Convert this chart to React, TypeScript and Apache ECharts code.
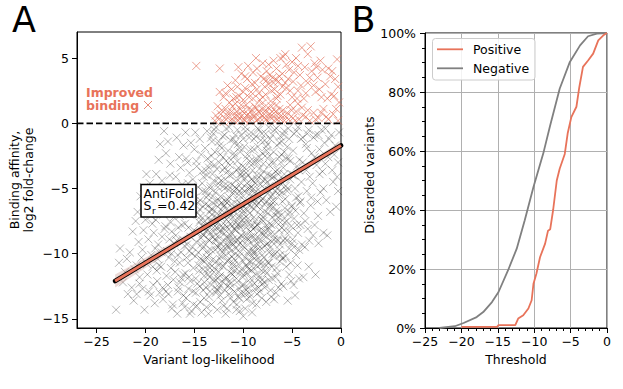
import React, { useEffect, useRef } from "react";
import * as echarts from "echarts";

// ---------- Panel A data ----------
const xTicksA = [-25, -20, -15, -10, -5, 0];
const yTicksA = [-15, -10, -5, 0, 5];

const grayPts: number[][] = [
  [-23.0,-14.3],[-22.6,-9.6],[-22.7,-10.7],[-22.3,-12.2],[-22.1,-11.4],
  [-21.8,-13.1],[-21.6,-9.9],[-21.4,-12.6],[-21.3,-8.3],[-21.1,-11.2],[-21.0,-7.5],[-21.9,-10.4],[-21.2,-13.6],
  [-20.9,-13.1],[-20.8,-6.8],[-20.7,-9.1],[-20.6,-11.8],[-20.5,-5.6],[-20.4,-10.3],[-20.3,-12.7],[-20.2,-8.2],[-20.1,-14.3],[-20.0,-7.4],[-20.9,-10.9],[-20.6,-12.3],[-20.3,-9.7],[-20.15,-4.9],
  [-19.9,-3.9],[-19.8,-11.6],[-19.7,-8.9],[-19.6,-6.2],[-19.5,-13.2],[-19.4,-10.1],[-19.3,-7.7],[-19.2,-12.4],[-19.1,-5.3],[-19.0,-9.6],[-19.85,-10.8],[-19.65,-12.9],[-19.45,-7.1],[-19.25,-11.0],[-19.05,-13.8],[-19.55,-4.6],[-19.15,-8.4],[-19.75,-6.9],
  [-18.9,-3.9],[-18.5,-1.6],[-18.1,-0.6],[-18.8,-12.1],[-18.7,-9.3],[-18.6,-6.8],[-18.4,-11.0],[-18.3,-4.4],[-18.2,-13.5],[-18.05,-8.1],[-18.95,-7.4],[-18.75,-10.4],[-18.55,-13.0],[-18.45,-5.8],[-18.35,-9.9],[-18.25,-12.6],[-18.15,-7.0],[-18.65,-2.8],[-18.85,-11.3],[-18.3,-8.7],[-18.6,-10.9],[-18.1,-5.1],
  [-17.9,-2.3],[-17.8,-9.8],[-17.7,-12.4],[-17.6,-6.1],[-17.5,-4.0],[-17.4,-11.1],[-17.3,-8.3],[-17.2,-13.9],[-17.1,-7.2],[-17.0,-10.6],[-17.95,-7.9],[-17.85,-11.7],[-17.75,-5.3],[-17.65,-13.1],[-17.55,-8.9],[-17.45,-3.1],[-17.35,-10.0],[-17.25,-6.6],[-17.15,-12.0],[-17.05,-9.2],[-17.7,-1.4],[-17.3,-14.2],[-17.6,-10.3],[-17.2,-5.6],[-17.9,-12.9],[-17.4,-7.6],
  [-16.9,-8.6],[-16.8,-1.1],[-16.7,-12.9],[-16.6,-5.0],[-16.5,-10.7],[-16.4,-3.4],[-16.3,-7.8],[-16.2,-13.8],[-16.1,-1.7],[-16.0,-9.4],[-16.95,-11.4],[-16.85,-6.3],[-16.75,-14.6],[-16.65,-8.0],[-16.55,-2.6],[-16.45,-12.2],[-16.35,-9.9],[-16.25,-4.7],[-16.15,-11.6],[-16.05,-6.9],[-16.9,-4.1],[-16.7,-10.1],[-16.5,-7.1],[-16.3,-11.9],[-16.1,-13.2],[-16.8,-9.0],[-16.6,-12.6],[-16.4,-6.0],[-16.2,-8.9],[-16.0,-14.1],
  [-15.9,-0.7],[-15.8,-10.3],[-15.7,-6.2],[-15.6,-12.7],[-15.5,-3.8],[-15.4,-8.7],[-15.3,-14.4],[-15.2,-5.4],[-15.1,-11.1],[-15.0,-2.0],[-15.95,-7.7],[-15.85,-13.4],[-15.75,-9.3],[-15.65,-4.6],[-15.55,-11.8],[-15.45,-7.0],[-15.35,-1.5],[-15.25,-10.0],[-15.15,-12.9],[-15.05,-8.2],[-15.9,-11.5],[-15.7,-3.0],[-15.5,-9.8],[-15.3,-6.8],[-15.1,-13.9],[-15.8,-5.1],[-15.6,-8.0],[-15.4,-12.1],[-15.2,-9.5],[-15.0,-6.0],[-15.85,-2.7],[-15.45,-14.6],[-15.15,-4.3],[-15.65,-10.7],
  [-14.9,-0.7],[-14.8,-9.1],[-14.7,-12.3],[-14.6,-4.9],[-14.5,-7.6],[-14.4,-13.7],[-14.3,-2.4],[-14.2,-10.5],[-14.1,-6.4],[-14.0,-11.7],[-14.95,-5.7],[-14.85,-13.0],[-14.75,-3.3],[-14.65,-8.4],[-14.55,-10.9],[-14.45,-1.2],[-14.35,-7.1],[-14.25,-14.5],[-14.15,-9.6],[-14.05,-4.1],[-14.9,-10.2],[-14.7,-6.9],[-14.5,-11.3],[-14.3,-8.8],[-14.1,-12.8],[-14.8,-2.9],[-14.6,-9.9],[-14.4,-5.9],[-14.2,-7.9],[-14.0,-13.4],[-14.85,-11.9],[-14.65,-6.1],[-14.45,-12.5],[-14.25,-3.7],[-14.05,-8.6],[-14.75,-14.0],[-14.35,-10.4],[-14.15,-5.2],
  [-13.9,-1.9],[-13.8,-8.3],[-13.7,-11.2],[-13.6,-5.5],[-13.5,-13.3],[-13.4,-3.1],[-13.3,-9.7],[-13.2,-7.0],[-13.1,-12.0],[-13.0,-4.4],[-13.95,-10.6],[-13.85,-6.2],[-13.75,-14.1],[-13.65,-2.7],[-13.55,-8.9],[-13.45,-11.8],[-13.35,-5.0],[-13.25,-13.9],[-13.15,-7.7],[-13.05,-0.8],[-13.9,-9.3],[-13.7,-4.0],[-13.5,-10.1],[-13.3,-6.6],[-13.1,-8.7],[-13.8,-12.6],[-13.6,-7.3],[-13.4,-10.8],[-13.2,-1.4],[-13.0,-11.4],[-13.85,-3.6],[-13.65,-9.8],[-13.45,-6.8],[-13.25,-12.4],[-13.05,-8.0],[-13.75,-5.7],[-13.55,-14.6],[-13.35,-8.4],[-13.15,-3.9],[-13.95,-7.5],[-13.4,-12.9],[-13.1,-6.1],
  [-12.9,-2.2],[-12.8,-9.0],[-12.7,-12.7],[-12.6,-6.4],[-12.5,-4.2],[-12.4,-10.4],[-12.3,-7.9],[-12.2,-13.6],[-12.1,-1.0],[-12.0,-8.5],[-12.95,-11.1],[-12.85,-5.3],[-12.75,-7.2],[-12.65,-14.3],[-12.55,-9.5],[-12.45,-3.0],[-12.35,-11.7],[-12.25,-6.1],[-12.15,-9.9],[-12.05,-12.2],[-12.9,-7.6],[-12.7,-3.5],[-12.5,-11.4],[-12.3,-5.6],[-12.1,-10.9],[-12.8,-13.0],[-12.6,-8.7],[-12.4,-1.7],[-12.2,-7.3],[-12.0,-4.8],[-12.85,-9.7],[-12.65,-6.9],[-12.45,-12.6],[-12.25,-8.2],[-12.05,-2.6],[-12.75,-10.6],[-12.55,-4.6],[-12.35,-13.2],[-12.15,-6.7],[-12.95,-0.5],[-12.6,-11.9],[-12.3,-9.2],[-12.0,-14.0],[-12.7,-8.0],
  [-11.9,-3.4],[-11.8,-10.1],[-11.7,-7.4],[-11.6,-12.5],[-11.5,-5.1],[-11.4,-8.8],[-11.3,-1.3],[-11.2,-11.2],[-11.1,-6.5],[-11.0,-13.7],[-11.95,-8.1],[-11.85,-4.3],[-11.75,-11.8],[-11.65,-9.4],[-11.55,-2.1],[-11.45,-13.1],[-11.35,-6.9],[-11.25,-9.8],[-11.15,-4.7],[-11.05,-10.7],[-11.9,-12.8],[-11.7,-5.8],[-11.5,-9.1],[-11.3,-7.7],[-11.1,-11.6],[-11.8,-6.0],[-11.6,-3.7],[-11.4,-12.1],[-11.2,-8.4],[-11.0,-5.4],[-11.85,-9.6],[-11.65,-14.2],[-11.45,-7.0],[-11.25,-2.8],[-11.05,-8.9],[-11.75,-0.4],[-11.55,-10.5],[-11.35,-12.3],[-11.15,-7.9],[-11.95,-6.3],[-11.6,-8.0],[-11.4,-4.0],[-11.2,-10.2],[-11.0,-9.3],[-11.8,-14.6],[-11.3,-13.4],
  [-10.9,-2.5],[-10.8,-8.2],[-10.7,-11.9],[-10.6,-5.9],[-10.5,-13.3],[-10.4,-7.1],[-10.3,-9.9],[-10.2,-4.1],[-10.1,-12.4],[-10.0,-6.7],[-10.95,-10.4],[-10.85,-4.9],[-10.75,-7.6],[-10.65,-13.9],[-10.55,-1.6],[-10.45,-9.3],[-10.35,-11.4],[-10.25,-6.2],[-10.15,-8.6],[-10.05,-3.3],[-10.9,-12.9],[-10.7,-6.5],[-10.5,-10.8],[-10.3,-3.9],[-10.1,-9.0],[-10.8,-0.9],[-10.6,-8.9],[-10.4,-12.7],[-10.2,-7.8],[-10.0,-10.6],[-10.85,-11.3],[-10.65,-3.6],[-10.45,-5.5],[-10.25,-13.0],[-10.05,-11.8],[-10.75,-9.6],[-10.55,-7.3],[-10.35,-14.4],[-10.15,-5.0],[-10.95,-6.8],[-10.6,-2.9],[-10.3,-8.0],[-10.0,-14.8],[-10.7,-14.3],[-10.4,-1.9],[-10.1,-7.4],
  [-9.9,-1.8],[-9.8,-7.7],[-9.7,-10.9],[-9.6,-4.6],[-9.5,-12.6],[-9.4,-6.3],[-9.3,-9.2],[-9.2,-3.2],[-9.1,-14.5],[-9.0,-8.1],[-9.95,-11.6],[-9.85,-5.2],[-9.75,-8.5],[-9.65,-13.5],[-9.55,-2.4],[-9.45,-9.8],[-9.35,-6.9],[-9.25,-11.9],[-9.15,-4.3],[-9.05,-10.2],[-9.9,-9.5],[-9.7,-3.8],[-9.5,-7.3],[-9.3,-12.2],[-9.1,-5.7],[-9.8,-13.1],[-9.6,-8.8],[-9.4,-1.1],[-9.2,-10.6],[-9.0,-6.0],[-9.85,-3.4],[-9.65,-6.6],[-9.45,-11.2],[-9.25,-8.3],[-9.05,-13.8],[-9.75,-0.6],[-9.55,-10.0],[-9.35,-5.0],[-9.15,-7.9],[-9.95,-7.0],[-9.6,-11.5],[-9.3,-2.9],[-9.0,-9.7],[-9.8,-14.2],[-9.4,-13.0],[-9.2,-4.9],
  [-8.9,-2.0],[-8.8,-8.0],[-8.7,-10.5],[-8.6,-4.0],[-8.5,-12.0],[-8.4,-6.1],[-8.3,-9.0],[-8.2,-1.3],[-8.1,-13.4],[-8.0,-7.2],[-8.95,-11.1],[-8.85,-5.3],[-8.75,-7.5],[-8.65,-13.9],[-8.55,-3.0],[-8.45,-9.6],[-8.35,-11.7],[-8.25,-4.7],[-8.15,-8.4],[-8.05,-10.1],[-8.9,-6.6],[-8.7,-2.7],[-8.5,-9.3],[-8.3,-5.6],[-8.1,-11.3],[-8.8,-12.7],[-8.6,-7.8],[-8.4,-0.5],[-8.2,-10.8],[-8.0,-4.4],[-8.85,-9.9],[-8.65,-6.3],[-8.45,-12.6],[-8.25,-7.0],[-8.05,-2.3],[-8.75,-4.6],[-8.55,-11.0],[-8.35,-3.5],[-8.15,-5.9],[-8.95,-8.7],[-8.6,-13.1],[-8.3,-8.2],[-8.0,-12.3],[-8.7,-1.0],
  [-7.9,-3.7],[-7.8,-9.4],[-7.7,-6.8],[-7.6,-11.5],[-7.5,-1.6],[-7.4,-8.0],[-7.3,-4.8],[-7.2,-12.8],[-7.1,-6.0],[-7.0,-10.0],[-7.95,-7.5],[-7.85,-12.2],[-7.75,-2.5],[-7.65,-8.7],[-7.55,-5.4],[-7.45,-10.7],[-7.35,-3.2],[-7.25,-7.7],[-7.15,-13.3],[-7.05,-4.2],[-7.9,-10.3],[-7.7,-0.8],[-7.5,-9.2],[-7.3,-6.4],[-7.1,-11.0],[-7.8,-5.0],[-7.6,-2.1],[-7.4,-12.0],[-7.2,-8.5],[-7.0,-2.9],[-7.85,-8.3],[-7.65,-13.7],[-7.45,-6.9],[-7.25,-1.2],[-7.05,-9.1],[-7.75,-11.3],[-7.55,-4.5],[-7.35,-9.9],[-7.15,-5.6],[-7.0,-7.2],
  [-6.9,-2.2],[-6.8,-8.5],[-6.7,-5.2],[-6.6,-11.1],[-6.5,-3.6],[-6.4,-7.2],[-6.3,-9.7],[-6.2,-1.0],[-6.1,-12.3],[-6.0,-6.0],[-6.95,-10.2],[-6.85,-4.1],[-6.75,-7.0],[-6.65,-13.0],[-6.55,-1.7],[-6.45,-9.0],[-6.35,-5.5],[-6.25,-10.6],[-6.15,-3.0],[-6.05,-8.0],[-6.9,-6.4],[-6.7,-11.8],[-6.5,-8.9],[-6.3,-2.6],[-6.1,-4.7],[-6.8,-0.5],[-6.6,-6.7],[-6.4,-12.6],[-6.2,-7.6],[-6.0,-10.4],[-6.85,-13.5],[-6.45,-4.4],[-6.25,-9.3],[-6.05,-1.4],
  [-5.9,-3.4],[-5.8,-8.2],[-5.7,-5.8],[-5.6,-11.0],[-5.5,-1.8],[-5.4,-7.0],[-5.3,-9.6],[-5.2,-4.3],[-5.1,-12.1],[-5.0,-6.3],[-5.95,-10.3],[-5.85,-0.9],[-5.75,-7.6],[-5.65,-4.8],[-5.55,-9.0],[-5.45,-13.6],[-5.35,-2.7],[-5.25,-6.8],[-5.15,-10.7],[-5.05,-3.9],[-5.9,-12.5],[-5.7,-8.8],[-5.5,-5.2],[-5.3,-11.6],[-5.1,-7.9],[-5.8,-2.2],[-5.4,-0.4],[-5.0,-9.2],
  [-4.9,-2.1],[-4.8,-7.3],[-4.7,-5.0],[-4.6,-10.1],[-4.5,-3.3],[-4.4,-8.4],[-4.3,-11.9],[-4.2,-6.1],[-4.1,-1.2],[-4.0,-9.3],[-4.95,-8.9],[-4.85,-12.4],[-4.75,-4.0],[-4.65,-6.7],[-4.55,-0.6],[-4.45,-10.9],[-4.35,-5.6],[-4.25,-2.8],[-4.15,-7.8],[-4.05,-4.5],[-4.7,-13.2],[-4.3,-9.7],
  [-3.9,-3.0],[-3.8,-6.9],[-3.7,-9.5],[-3.6,-1.6],[-3.5,-5.2],[-3.4,-8.1],[-3.3,-11.0],[-3.2,-4.1],[-3.1,-6.3],[-3.0,-2.3],[-3.85,-11.8],[-3.65,-7.5],[-3.45,-0.8],[-3.25,-9.0],[-3.05,-5.7],[-3.55,-3.6],
  [-2.9,-4.6],[-2.8,-1.1],[-2.7,-7.8],[-2.6,-11.6],[-2.5,-3.2],[-2.4,-6.0],[-2.3,-9.2],[-2.2,-2.0],[-2.1,-5.3],[-2.0,-0.5],[-2.85,-8.6],[-2.35,-7.1],
  [-1.9,-3.7],[-1.8,-8.4],[-1.7,-1.5],[-1.5,-5.9],[-1.4,-8.6],[-1.3,-2.6],[-1.1,-6.8],[-1.0,-0.9],
  [-0.8,-4.5],[-0.6,-1.7],[-0.5,-6.4],[-0.4,-4.1],[-0.3,-3.0],[-0.2,-0.7],
];

// extra points in the dense core of the grey cloud
const grayCore: number[][] = [
  [-14.45,-6.6],[-14.3,-9.3],[-14.2,-4.6],[-14.1,-11.2],[-13.95,-7.9],[-13.85,-5.2],[-13.75,-10.3],[-13.65,-8.2],[-13.55,-6.3],[-13.5,-3.4],[-13.95,-12.2],[-14.35,-7.4],[-13.6,-11.6],[-14.15,-8.5],
  [-13.45,-9.0],[-13.35,-4.8],[-13.3,-7.4],[-13.2,-10.5],[-13.1,-5.6],[-13.0,-8.3],[-12.95,-3.2],[-12.85,-12.0],[-12.8,-6.0],[-12.7,-9.4],[-12.6,-4.9],[-12.55,-7.6],[-12.5,-10.9],[-13.25,-2.5],[-13.4,-11.1],[-12.9,-8.9],[-12.65,-12.8],[-13.15,-6.6],
  [-12.45,-5.9],[-12.4,-8.3],[-12.35,-2.4],[-12.3,-10.2],[-12.25,-4.4],[-12.2,-9.6],[-12.15,-7.0],[-12.1,-3.6],[-12.05,-11.0],[-12.0,-6.4],[-11.95,-9.0],[-11.9,-5.0],[-11.85,-7.8],[-11.8,-11.9],[-11.75,-2.9],[-11.7,-8.7],[-11.65,-6.1],[-11.6,-10.6],[-11.55,-4.8],[-12.45,-12.3],[-11.5,-7.2],[-12.2,-1.9],
  [-11.45,-9.5],[-11.4,-5.7],[-11.35,-3.2],[-11.3,-8.6],[-11.25,-11.5],[-11.2,-6.2],[-11.15,-9.2],[-11.1,-3.9],[-11.05,-7.2],[-11.0,-10.9],[-10.95,-5.2],[-10.9,-8.1],[-10.85,-1.5],[-10.8,-10.0],[-10.75,-4.4],[-10.7,-7.9],[-10.65,-12.2],[-10.6,-6.2],[-10.55,-9.0],[-10.5,-3.4],[-11.3,-12.6],[-10.95,-2.3],[-10.7,-5.0],[-11.45,-6.7],
  [-10.45,-7.8],[-10.4,-10.2],[-10.35,-5.2],[-10.3,-2.2],[-10.25,-8.6],[-10.2,-11.2],[-10.15,-6.6],[-10.1,-3.8],[-10.05,-9.4],[-10.0,-5.6],[-9.95,-12.4],[-9.9,-7.3],[-9.85,-4.2],[-9.8,-10.3],[-9.75,-6.0],[-9.7,-8.0],[-9.65,-2.7],[-9.6,-11.0],[-9.55,-5.0],[-9.5,-8.9],[-10.4,-13.4],[-10.0,-1.2],[-9.7,-12.8],[-10.2,-4.6],
  [-9.45,-4.0],[-9.4,-7.6],[-9.35,-10.6],[-9.3,-5.4],[-9.25,-2.0],[-9.2,-8.7],[-9.15,-11.3],[-9.1,-6.4],[-9.05,-3.6],[-9.0,-9.9],[-8.95,-5.0],[-8.9,-7.2],[-8.85,-12.3],[-8.8,-3.0],[-8.75,-8.9],[-8.7,-6.0],[-8.65,-10.2],[-8.6,-4.3],[-8.55,-7.8],[-8.5,-1.8],[-9.3,-13.3],[-9.0,-4.4],[-8.7,-11.6],[-8.9,-9.4],
  [-8.45,-5.1],[-8.4,-8.8],[-8.35,-2.6],[-8.3,-10.6],[-8.25,-6.6],[-8.2,-4.0],[-8.15,-9.6],[-8.1,-7.4],[-8.05,-12.0],[-8.0,-5.8],[-7.95,-3.1],[-7.9,-8.6],[-7.85,-6.2],[-7.8,-10.8],[-7.75,-4.3],[-7.7,-7.9],[-7.65,-1.8],[-7.6,-9.3],[-7.55,-6.0],[-7.5,-3.9],[-8.3,-12.9],[-7.8,-12.6],
  [-7.45,-8.2],[-7.4,-5.1],[-7.35,-10.7],[-7.3,-2.5],[-7.25,-6.3],[-7.2,-9.5],[-7.15,-4.0],[-7.1,-7.8],[-7.05,-11.9],[-7.0,-5.5],[-6.95,-3.1],[-6.9,-8.9],[-6.8,-6.0],[-6.75,-10.0],[-6.7,-3.7],[-6.6,-7.6],[-6.55,-5.0],[-6.5,-11.5],
  [-6.45,-6.9],[-6.4,-3.9],[-6.3,-8.2],[-6.25,-5.2],[-6.2,-10.1],[-6.1,-2.4],[-6.05,-7.0],[-5.95,-5.3],[-5.9,-9.0],[-5.8,-3.9],[-5.75,-6.5],[-5.65,-10.2],[-5.6,-2.7],[-5.55,-7.5],
  [-5.45,-5.0],[-5.3,-8.3],[-5.2,-2.9],[-5.05,-6.4],[-4.9,-4.0],[-4.8,-9.5],[-4.6,-5.7],[-4.5,-7.8],[-4.3,-3.6],[-4.15,-6.0],
];

// extra grey points just below the zero line and at the right edge
const grayTop: number[][] = [
  [-13.7,-0.6],[-13.3,-1.1],[-12.8,-0.3],[-12.5,-1.4],[-11.9,-0.9],[-11.45,-0.3],[-11.0,-1.2],[-10.6,-0.5],[-10.2,-0.9],[-9.8,-0.3],[-9.2,-0.7],[-8.9,-1.2],[-8.5,-0.4],[-8.1,-0.8],[-7.8,-1.3],[-7.4,-0.3],[-7.0,-0.9],[-6.6,-0.4],[-6.3,-1.5],[-5.8,-0.6],[-5.3,-1.2],[-4.8,-0.8],[-4.4,-0.3],[-3.9,-1.1],[-3.3,-0.5],[-2.6,-0.9],[-1.6,-0.4],
  [-1.2,-1.2],[-0.7,-2.4],[-2.3,-0.9],[-1.6,-3.1],[-0.9,-3.6],[-2.7,-2.6],[-3.5,-1.9],[-0.3,-5.2],[-1.8,-5.0],[-2.2,-3.9],
];

const redPts: number[][] = [
  [-14.8,4.4],[-12.4,4.2],[-12.4,2.4],[-10.5,4.3],[-9.5,4.4],[-8.6,4.2],[-7.4,4.5],[-6.2,5.0],[-5.7,5.3],[-5.0,4.7],[-4.0,5.8],[-3.1,5.9],[-2.1,4.8],[-1.3,4.2],[-0.4,4.9],
  [-12.8,0.6],[-12.5,0.3],[-12.2,1.0],[-11.9,0.4],[-11.6,0.8],[-11.3,0.2],[-11.1,1.3],[-10.9,0.5],[-10.7,0.9],[-10.5,0.2],[-10.3,1.1],[-10.1,0.6],[-9.9,0.3],[-9.7,1.4],[-9.5,0.7],[-9.3,0.2],[-9.1,1.0],[-8.9,0.5],[-8.7,1.2],[-8.5,0.3],[-8.3,0.8],[-8.1,1.5],[-7.9,0.4],[-7.7,1.0],[-7.5,0.2],[-7.3,0.7],[-7.1,1.3],[-6.9,0.5],[-6.7,0.9],[-6.5,0.3],[-6.3,1.1],[-6.1,0.6],[-5.8,0.2],[-5.5,0.8],[-5.2,1.4],[-4.9,0.4],[-4.6,0.9],[-4.3,0.3],[-4.0,1.2],[-3.6,0.5],[-3.2,0.2],[-2.8,0.8],[-2.3,0.4],[-1.8,1.1],[-1.3,0.3],[-0.8,0.7],[-0.3,0.2],[-11.4,1.6],[-10.0,1.8],[-9.0,1.9],[-8.0,2.0],[-7.2,1.7],[-6.6,1.9],
  [-12.0,2.0],[-11.2,2.6],[-10.8,3.3],[-10.4,2.1],[-10.2,3.8],[-9.8,2.7],[-9.6,3.4],[-9.2,2.4],[-8.8,3.1],[-8.4,2.3],[-8.2,3.6],[-7.8,2.8],[-7.6,3.3],[-7.4,3.0],[-7.0,3.5],[-6.8,2.6],[-6.4,3.2],[-6.2,2.2],[-6.0,3.8],[-5.6,2.7],[-5.4,3.4],[-5.0,2.0],[-4.8,3.9],[-4.4,2.5],[-4.2,3.7],[-3.8,1.9],[-3.4,3.1],[-3.0,4.0],[-2.6,2.4],[-2.4,3.5],[-2.0,2.0],[-1.6,3.0],[-1.0,2.2],[-0.6,3.4],[-0.2,1.6],[-0.7,2.1],[-1.9,4.1],[-3.7,4.3],[-5.3,4.1],[-6.6,4.2],[-8.0,4.6],[-9.0,3.9],[-11.6,2.9],[-4.6,5.0],[-3.4,5.3],[-2.7,4.6],[-6.9,4.8],[-5.9,5.1],[-8.7,5.0],
];

const redMore: number[][] = [
  [-12.9,0.2],[-12.6,1.3],[-12.3,0.7],[-12.0,0.1],[-11.8,1.1],[-11.5,0.5],[-11.2,0.9],[-10.95,0.2],[-10.8,1.5],[-10.6,0.6],[-10.4,0.4],[-10.2,1.4],[-10.05,0.9],[-9.85,0.2],[-9.65,0.6],[-9.45,1.1],[-9.25,0.4],[-9.05,0.7],[-8.85,1.3],[-8.65,0.2],[-8.45,0.9],[-8.25,0.4],[-8.05,1.1],[-7.85,0.7],[-7.65,0.3],[-7.45,1.2],[-7.25,0.5],[-7.05,0.9],[-6.85,0.2],[-6.6,1.4],[-6.4,0.7],[-6.2,0.3],[-5.95,1.0],[-5.65,0.5],[-5.35,0.3],[-5.05,1.0],[-4.7,0.2],[-4.4,1.5],[-3.9,0.6],[-3.4,1.0],[-2.6,0.3],[-2.0,0.8],[-1.5,0.5],[-0.5,1.1],
  [-11.8,2.3],[-11.0,1.9],[-10.6,2.8],[-10.0,2.4],[-9.4,2.0],[-9.1,3.0],[-8.6,2.6],[-8.3,1.8],[-7.9,3.4],[-7.7,2.2],[-7.3,3.7],[-7.1,2.5],[-6.9,3.1],[-6.7,3.4],[-6.5,2.1],[-6.3,3.6],[-6.0,2.8],[-5.7,3.1],[-5.2,2.5],[-4.9,3.2],[-4.5,1.9],[-4.1,2.9],[-3.6,2.3],[-3.2,3.5],[-2.8,2.9],[-2.2,2.6],[-1.4,1.9],[-1.1,3.6],[-0.3,2.8],[-0.9,4.0],[-2.5,4.3],[-4.4,4.4],[-5.6,4.5],[-7.6,4.0],[-9.8,3.6],[-10.7,2.0],
];

const fitX = [-23.1, 0];
const fitY = [-12.1, -1.7];
const ciX = [-23.1, -17, -11.5, -6, 0];
const ciLow = [-12.6, -9.65, -6.9, -4.6, -2.0];
const ciHigh = [-11.6, -9.05, -6.6, -4.15, -1.4];
const zeroX = [-27, 0];
const zeroY = [0, 0];

// ---------- Panel B data ----------
const negX = [-23, -20.9, -19.7, -17.9, -17.0, -15.8, -14.9, -13.6, -12.4, -11.3, -10.1, -8.7, -7.8, -6.5, -5.1, -3.7, -2.6, -1.4, 0];
const negY = [0, 0.6, 1.7, 3.7, 5.4, 8.8, 12.2, 19.5, 26.9, 36.5, 47.8, 59.7, 68.7, 81.1, 90.2, 95.8, 98.9, 99.8, 100];
const posX = [-20, -15.1, -14.9, -12.6, -12.2, -11.5, -10.8, -10.35, -10.1, -9.7, -9.2, -8.5, -8.1, -7.8, -7.4, -6.9, -6.5, -5.8, -5.4, -4.9, -4.2, -3.8, -3.3, -2.6, -1.9, -1.2, -0.5, 0];
const posY = [0.4, 0.4, 1.0, 1.0, 3.2, 4.3, 6.6, 9.4, 15, 18.4, 24, 28.6, 33, 33.5, 40, 50, 54, 59, 66, 71.5, 75, 81.7, 88.5, 90.7, 93, 97.5, 99.2, 100];
const xTicksB = [-25, -20, -15, -10, -5, 0];

const SALMON = "#E8735A";
const FONT = "'DejaVu Sans', sans-serif";

const minus = (v: number) => (v < 0 ? "\u2212" + Math.abs(v) : String(v));

function T(text: string, x: number, y: number, o: any = {}) {
  const align = o.align || "left";
  return {
    type: "text",
    x,
    y,
    rotation: o.rotation || 0,
    silent: true,
    z: 100,
    style: {
      text,
      font: `${o.weight || "normal"} ${o.size || 12.5}px ${FONT}`,
      fill: o.color || "#000",
      align,
      textAlign: align,
      verticalAlign: "middle",
      textVerticalAlign: "middle",
      lineHeight: o.lineHeight,
    },
  };
}

const XSYM = "path://M0 0L10 10M10 0L0 10";

export default function App() {
  const ref = useRef<HTMLDivElement>(null);
  useEffect(() => {
    if (!ref.current) return;
    const chart = echarts.init(ref.current, undefined, { renderer: "svg" });
    const axisCommon = {
      type: "value",
      axisLine: { show: true, onZero: false, lineStyle: { color: "#000", width: 1 } },
      axisTick: { show: true, inside: false, length: 5, lineStyle: { color: "#000", width: 1 } },
      axisLabel: { color: "#000", fontSize: 12.5, fontFamily: FONT, formatter: minus },
      splitLine: { show: false },
    };
    const option: any = {
      animation: false,
      textStyle: { fontFamily: FONT },
      grid: [
        { left: 77, top: 32, width: 264, height: 296, show: true, borderColor: "#000", borderWidth: 1, backgroundColor: "transparent" },
        { left: 425, top: 33, width: 182, height: 295, show: true, borderColor: "#000", borderWidth: 1, backgroundColor: "transparent" },
      ],
      xAxis: [
        {
          ...axisCommon,
          gridIndex: 0,
          min: -27,
          max: 0,
          axisTick: { ...axisCommon.axisTick, customValues: xTicksA },
          axisLabel: { ...axisCommon.axisLabel, customValues: xTicksA, margin: 7 },
        },
        {
          ...axisCommon,
          gridIndex: 1,
          min: -25,
          max: 0,
          interval: 5,
          axisLabel: { ...axisCommon.axisLabel, margin: 7, customValues: xTicksB },
          minorTick: { show: true, splitNumber: 5, length: 3, lineStyle: { color: "#000" } },
          splitLine: { show: true, lineStyle: { color: "#b0b0b0", width: 1 } },
        },
      ],
      yAxis: [
        {
          ...axisCommon,
          gridIndex: 0,
          min: -15.7,
          max: 7,
          axisTick: { ...axisCommon.axisTick, customValues: yTicksA },
          axisLabel: { ...axisCommon.axisLabel, customValues: yTicksA, margin: 8 },
        },
        {
          ...axisCommon,
          gridIndex: 1,
          min: 0,
          max: 100,
          interval: 20,
          axisLabel: { ...axisCommon.axisLabel, margin: 9, formatter: (v: number) => v + "%" },
          minorTick: { show: true, splitNumber: 4, length: 3, lineStyle: { color: "#000" } },
          splitLine: { show: true, lineStyle: { color: "#b0b0b0", width: 1 } },
        },
      ],
      series: [
        {
          type: "scatter",
          xAxisIndex: 0,
          yAxisIndex: 0,
          data: [...grayPts, ...grayCore, ...grayTop],
          symbol: XSYM,
          symbolSize: 8,
          silent: true,
          z: 2,
          itemStyle: { color: "rgba(0,0,0,0)", borderColor: "rgba(0,0,0,0.36)", borderWidth: 1 },
        },
        {
          type: "scatter",
          xAxisIndex: 0,
          yAxisIndex: 0,
          data: [...redPts, ...redMore],
          symbol: XSYM,
          symbolSize: 8,
          silent: true,
          z: 2,
          itemStyle: { color: "rgba(0,0,0,0)", borderColor: "rgba(226,108,84,0.8)", borderWidth: 1 },
        },
        {
          type: "line",
          xAxisIndex: 0,
          yAxisIndex: 0,
          data: zeroX.map((x, i) => [x, zeroY[i]]),
          showSymbol: false,
          silent: true,
          z: 3,
          lineStyle: { color: "#000", width: 1.8, type: [6.5, 3] },
        },
        {
          type: "custom",
          xAxisIndex: 0,
          yAxisIndex: 0,
          silent: true,
          z: 3,
          data: [[-10, -6]],
          renderItem: (_p: any, api: any) => {
            const pts: number[][] = [];
            ciX.forEach((x, i) => pts.push(api.coord([x, ciHigh[i]])));
            for (let i = ciX.length - 1; i >= 0; i--) pts.push(api.coord([ciX[i], ciLow[i]]));
            return { type: "polygon", shape: { points: pts }, style: { fill: "rgba(200,150,140,0.35)" } };
          },
        },
        {
          type: "line",
          xAxisIndex: 0,
          yAxisIndex: 0,
          data: fitX.map((x, i) => [x, fitY[i]]),
          showSymbol: false,
          silent: true,
          z: 4,
          lineStyle: { color: "#000", width: 4.6, cap: "round" },
        },
        {
          type: "line",
          xAxisIndex: 0,
          yAxisIndex: 0,
          data: fitX.map((x, i) => [x, fitY[i]]),
          showSymbol: false,
          silent: true,
          z: 5,
          lineStyle: { color: SALMON, width: 2.8 },
        },
        {
          name: "Negative",
          type: "line",
          xAxisIndex: 1,
          yAxisIndex: 1,
          data: negX.map((x, i) => [x, negY[i]]),
          showSymbol: false,
          silent: true,
          z: 3,
          lineStyle: { color: "#808080", width: 1.8 },
        },
        {
          name: "Positive",
          type: "line",
          xAxisIndex: 1,
          yAxisIndex: 1,
          data: posX.map((x, i) => [x, posY[i]]),
          showSymbol: false,
          silent: true,
          z: 3,
          lineStyle: { color: SALMON, width: 1.8 },
        },
      ],
      graphic: [
        T("A", 12, 20.2, { size: 35 }),
        T("B", 351.5, 20.2, { size: 35 }),
        T("Binding affinity,", 14.5, 180, { rotation: Math.PI / 2, align: "center" }),
        T("log2 fold-change", 28.8, 180, { rotation: Math.PI / 2, align: "center" }),
        T("Variant log-likelihood", 209, 359.8, { align: "center" }),
        T("Threshold", 516, 359.8, { align: "center" }),
        T("Discarded variants", 369, 175, { rotation: Math.PI / 2, align: "center" }),
        T("Improved\nbinding", 86, 99.1, { weight: "bold", color: SALMON, lineHeight: 12.5 }),
        { type: "line", silent: true, z: 100, shape: { x1: 144, y1: 101, x2: 152, y2: 109 }, style: { stroke: "rgba(226,108,84,0.8)", lineWidth: 1 } },
        { type: "line", silent: true, z: 100, shape: { x1: 152, y1: 101, x2: 144, y2: 109 }, style: { stroke: "rgba(226,108,84,0.8)", lineWidth: 1 } },
        { type: "rect", silent: true, z: 99, shape: { x: 141, y: 184.5, width: 55, height: 32.5 }, style: { fill: "#fff", stroke: "#000", lineWidth: 1.5 } },
        T("AntiFold", 143.5, 193.5),
        T("S", 143.5, 205.5),
        T("r", 152, 211, { size: 9 }),
        T("=0.42", 157, 205.5),
        { type: "rect", silent: true, z: 99, shape: { x: 432.5, y: 38.5, width: 102.5, height: 41.5, r: 3 }, style: { fill: "rgba(255,255,255,0.85)", stroke: "#cccccc", lineWidth: 1 } },
        { type: "line", silent: true, z: 100, shape: { x1: 437, y1: 49.3, x2: 463, y2: 49.3 }, style: { stroke: SALMON, lineWidth: 1.8 } },
        { type: "line", silent: true, z: 100, shape: { x1: 437, y1: 68.3, x2: 463, y2: 68.3 }, style: { stroke: "#808080", lineWidth: 1.8 } },
        T("Positive", 473, 49.5),
        T("Negative", 473, 68.5),
      ],
    };
    chart.setOption(option);
    return () => chart.dispose();
  }, []);
  return (
    <div
      ref={ref}
      style={{ position: "fixed", left: 0, top: 0, width: 623, height: 389, background: "#fff" }}
    />
  );
}
